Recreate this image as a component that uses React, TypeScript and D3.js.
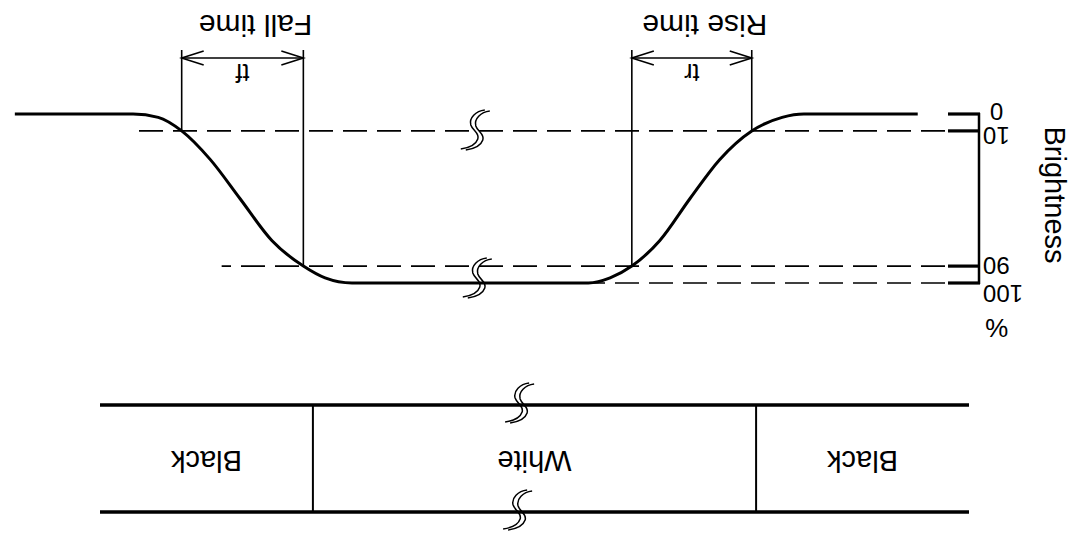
import React from 'react';
import * as d3 from 'd3';

const W = 1088;
const H = 540;

// Response waveform: time (arbitrary units) vs. brightness (%)
const waveTime = [59, 190, 215, 250, 287, 321, 356, 388, 413, 438, 710, 741, 766, 802, 839, 873, 906, 933, 962, 1098];
const waveBrightness = [0, 0, 2, 10, 27, 50, 75, 90, 97, 100, 100, 97, 90, 75, 50, 27, 10, 2, 0, 0];

// Brightness axis ticks
const levelTicks = [0, 10, 90, 100];
const levelLabels = ['0', '10', '90', '100'];

// Dashed reference levels and the time where each one ends
const refLevels = [10, 90, 100];
const refEnds = [963, 860, 473];

// Measured intervals
const intervalNames = ['Rise time', 'Fall time'];
const intervalSymbols = ['tr', 'tf'];
const intervalStart = [250, 766];
const intervalEnd = [388, 906];
const intervalStartLevel = [10, 90];
const intervalEndLevel = [90, 10];

// Input signal segments
const segmentNames = ['Black', 'White', 'Black'];
const segmentBounds = [0, 245, 755, 1000];

// Time-axis breaks
const waveBreakTime = 571;
const signalBreakTime = 520;

const FONT = '"Liberation Sans", Arial, Helvetica, sans-serif';

// Double S-shaped break mark centred on (x, y)
function Squiggle({ x, y }: { x: number; y: number }) {
  const d = (ox: number, oy: number) => {
    const px = (v: number) => x + v + ox;
    const py = (v: number) => y + v + oy;
    return (
      `M${px(-12)},${py(19)} C${px(-3)},${py(18)} ${px(4)},${py(11)} ${px(2)},${py(4)} ` +
      `C${px(0)},${py(-2)} ${px(-7)},${py(-4)} ${px(-5)},${py(-10)} ` +
      `C${px(-3)},${py(-16)} ${px(5)},${py(-19)} ${px(12)},${py(-20)}`
    );
  };
  return (
    <g fill="none" stroke="#000" strokeWidth={1.5}>
      <path d={d(0, 0)} />
      <path d={d(-5, -1)} />
    </g>
  );
}

export default function App() {
  const x = d3.scaleLinear().domain([0, 1000]).range([119, 988]);
  const y = d3.scaleLinear().domain([0, 100]).range([426, 257]);
  const axisX = 109;
  const tickLen = 31;

  const idx = d3.range(waveTime.length);
  const line = d3
    .line<number>()
    .x((i) => x(waveTime[i]))
    .y((i) => y(waveBrightness[i]))
    .curve(d3.curveMonotoneX);

  const labelNudgeY = [3, -5, 1, -10];
  const labelNudgeX = [-7, 0, 0, 0];
  const arrowY = 482;
  const guideTop = 490;
  const barA = 28;
  const barB = 135;

  return (
    <svg
      width={W}
      height={H}
      viewBox={`0 0 ${W} ${H}`}
      style={{ position: 'absolute', left: 0, top: 0, background: '#fff' }}
      fontFamily={FONT}
    >
      <g transform={`rotate(180 ${W / 2} ${H / 2})`}>
        {/* dashed reference levels */}
        {refLevels.map((lv, i) => (
          <line
            key={`ref${i}`}
            x1={axisX}
            x2={x(refEnds[i])}
            y1={y(lv)}
            y2={y(lv)}
            stroke="#000"
            strokeWidth={1.7}
            strokeDasharray="24 10"
          />
        ))}

        {/* brightness axis */}
        <line x1={axisX} x2={axisX} y1={y(0) + 1} y2={y(100) - 1} stroke="#000" strokeWidth={2.5} />
        {levelTicks.map((lv, i) => (
          <g key={`tick${i}`}>
            <line x1={axisX - 1} x2={axisX + tickLen} y1={y(lv)} y2={y(lv)} stroke="#000" strokeWidth={3.2} />
            <text
              x={axisX - 4 + labelNudgeX[i]}
              y={y(lv) + labelNudgeY[i]}
              textAnchor="end"
              dominantBaseline="central"
              fontSize={24}
            >
              {levelLabels[i]}
            </text>
          </g>
        ))}
        <text x={axisX - 6} y={y(100) - 45} textAnchor="end" dominantBaseline="central" fontSize={26}>
          %
        </text>
        <text
          x={33}
          y={345}
          transform="rotate(-90 33 345)"
          textAnchor="middle"
          dominantBaseline="central"
          fontSize={29}
        >
          Brightness
        </text>

        {/* response waveform */}
        <path d={line(idx) || ''} fill="none" stroke="#000" strokeWidth={3} />

        {/* interval markers */}
        {intervalNames.map((name, i) => {
          const x0 = x(intervalStart[i]);
          const x1 = x(intervalEnd[i]);
          const mid = (x0 + x1) / 2;
          return (
            <g key={`int${i}`} stroke="#000" fill="none" strokeWidth={1.6}>
              <line x1={x0} x2={x0} y1={y(intervalStartLevel[i])} y2={guideTop} />
              <line x1={x1} x2={x1} y1={y(intervalEndLevel[i])} y2={guideTop} />
              <line x1={x0} x2={x1} y1={arrowY} y2={arrowY} />
              <polyline points={`${x0 + 22},${arrowY - 7} ${x0},${arrowY} ${x0 + 22},${arrowY + 7}`} />
              <polyline points={`${x1 - 22},${arrowY - 7} ${x1},${arrowY} ${x1 - 22},${arrowY + 7}`} />
              <text
                x={mid}
                y={467}
                textAnchor="middle"
                dominantBaseline="central"
                fontSize={25}
                stroke="none"
                fill="#000"
              >
                {intervalSymbols[i]}
              </text>
              <text
                x={mid - 13}
                y={515}
                textAnchor="middle"
                dominantBaseline="central"
                fontSize={30}
                stroke="none"
                fill="#000"
              >
                {name}
              </text>
            </g>
          );
        })}

        {/* breaks on the waveform */}
        <Squiggle x={x(waveBreakTime)} y={y(10) + 2} />
        <Squiggle x={x(waveBreakTime) - 2} y={263} />

        {/* input signal */}
        <line x1={x(segmentBounds[0])} x2={x(segmentBounds[3])} y1={barA} y2={barA} stroke="#000" strokeWidth={3.5} />
        <line x1={x(segmentBounds[0])} x2={x(segmentBounds[3])} y1={barB} y2={barB} stroke="#000" strokeWidth={3.5} />
        {segmentBounds.slice(1, -1).map((b, i) => (
          <line key={`seg${i}`} x1={x(b)} x2={x(b)} y1={barA} y2={barB} stroke="#000" strokeWidth={2} />
        ))}
        {segmentNames.map((n, i) => (
          <text
            key={`sn${i}`}
            x={x((segmentBounds[i] + segmentBounds[i + 1]) / 2)}
            y={79}
            textAnchor="middle"
            dominantBaseline="central"
            fontSize={29}
          >
            {n}
          </text>
        ))}
        <Squiggle x={x(signalBreakTime)} y={barB + 3} />
        <Squiggle x={x(signalBreakTime) + 2} y={barA + 3} />
      </g>
    </svg>
  );
}
